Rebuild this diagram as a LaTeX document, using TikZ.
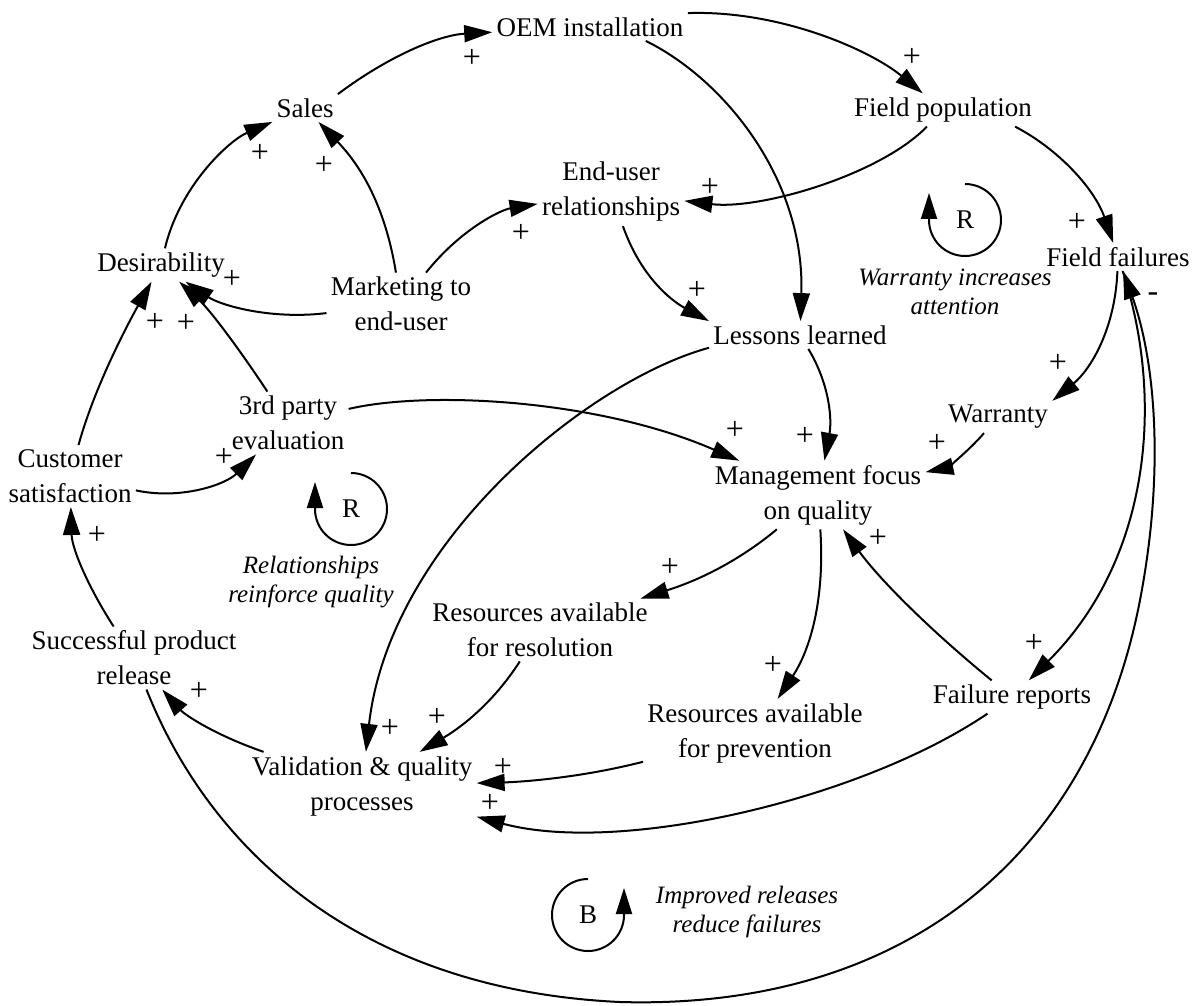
\documentclass[tikz,border=0pt]{standalone}
\usepackage{fontspec}
\setmainfont{Liberation Serif}
\usetikzlibrary{arrows.meta}
\begin{document}
\begin{tikzpicture}[x=0.5pt,y=-0.5pt,
  var/.style={font=\fontsize{13.5}{17.5}\selectfont, align=center, inner sep=2pt},
  note/.style={font=\fontsize{12.5}{14.5}\selectfont\itshape, align=center, inner sep=0pt},
  sign/.style={font=\fontsize{16}{16}\selectfont, inner sep=0pt},
  link/.style={line width=1pt, -{Triangle[length=14pt,width=8.5pt]}},
  loopmark/.style={line width=1pt, -{Triangle[length=13pt,width=8pt]}}
]
\useasboundingbox[fill=white] (0,0) rectangle (1202,1005);

% variables
\node[var] (oem)  at (590,27)  {OEM installation};
\node[var] (sales) at (305,108) {Sales};
\node[var] (fpop) at (943,110) {Field population};
\node[var] (eur)  at (611,192) {End-user\\relationships};
\node[var] (des)  at (161,265) {Desirability};
\node[var] (mkt)  at (401,304) {Marketing to\\end-user};
\node[var] (ff)   at (1118,257) {Field failures};
\node[var] (les)  at (800,335) {Lessons learned};
\node[var] (tpe)  at (288,423) {3rd party\\evaluation};
\node[var] (cs)   at (70,476)  {Customer\\satisfaction};
\node[var] (war)  at (998,417) {Warranty};
\node[var] (mfq)  at (818,495) {Management focus\\on quality};
\node[var] (rar)  at (540,630) {Resources available\\for resolution};
\node[var] (spr)  at (134,658) {Successful product\\release};
\node[var] (rap)  at (755,733) {Resources available\\for prevention};
\node[var] (fr)   at (1012,697) {Failure reports};
\node[var] (vqp)  at (362,786) {Validation \& quality\\processes};

% loop labels
\node[note] (n1) at (955,292) {Warranty increases\\attention};
\node[note] (n2) at (311,582) {Relationships\\reinforce quality};
\node[note] (n3) at (747,912) {Improved releases\\reduce failures};

\node[var] (r1) at (965,220) {R};
\node[var] (r2) at (351,509) {R};
\node[var] (b1) at (588,915) {B};
\draw[loopmark] ([yshift=18pt]r1.center) arc[start angle=90,end angle=-180,radius=18pt] -- ++(0,-27);
\draw[loopmark] ([yshift=18pt]r2.center) arc[start angle=90,end angle=-180,radius=18pt] -- ++(0,-27);
\draw[loopmark] ([yshift=18pt]b1.center) arc[start angle=90,end angle=360,radius=18pt] -- ++(0,-27);

% links
\draw[link] (sales.north east) .. controls (390,55) and (440,35) .. (oem);
\draw[link] (oem.north east) .. controls (780,10) and (870,50) .. (fpop);
\draw[link] (oem.-14) .. controls (725,80) and (805,180) .. (les);
\draw[link] (fpop) .. controls (880,175) and (760,210) .. (eur);
\draw[link] (fpop.-13) .. controls (1060,150) and (1095,190) .. (ff);
\draw[link] (des) .. controls (180,185) and (230,140) .. (sales);
\draw[link] (mkt) .. controls (385,205) and (360,165) .. (sales);
\draw[link] (mkt) .. controls (460,230) and (500,210) .. (eur);
\draw[link] (mkt) .. controls (270,320) and (220,305) .. (des);
\draw[link] (cs) .. controls (95,385) and (130,320) .. (des);
\draw[link] (tpe) .. controls (240,350) and (210,310) .. (des);
\draw[link] (cs) .. controls (180,500) and (225,485) .. (tpe);
\draw[link] (tpe) .. controls (430,390) and (600,400) .. (mfq);
\draw[link] (les.188) .. controls (590,380) and (390,540) .. (vqp);
\draw[link] (eur) .. controls (640,275) and (670,300) .. (les.north west);
\draw[link] (les) .. controls (830,385) and (832,420) .. (mfq);
\draw[link] (ff) .. controls (1115,330) and (1090,370) .. (war.north east);
\draw[link] (war) .. controls (965,455) and (945,468) .. (mfq);
\draw[link] (ff) .. controls (1165,400) and (1150,560) .. (fr);
\draw[link] (spr) .. controls (210,850) and (360,990) .. (620,1002)
   .. controls (900,1010) and (1090,860) .. (1140,600)
   .. controls (1165,470) and (1155,360) .. (ff);
\draw[link] (mfq) .. controls (740,560) and (700,580) .. (rar);
\draw[link] (mfq) .. controls (825,600) and (810,650) .. (rap);
\draw[link] (fr) .. controls (930,630) and (880,580) .. (mfq);
\draw[link] (rar) .. controls (495,700) and (465,725) .. (vqp);
\draw[link] (rap) .. controls (580,778) and (520,782) .. (vqp);
\draw[link] (fr) .. controls (860,800) and (620,855) .. (vqp);
\draw[link] (vqp) .. controls (215,735) and (185,715) .. (spr);
\draw[link] (spr) .. controls (90,590) and (72,550) .. (cs);

% polarity signs
\node[sign] (s1) at (472,58) {+};
\node[sign] (s2) at (912,57) {+};
\node[sign] (s3) at (710,187) {+};
\node[sign] (s4) at (1077,222) {+};
\node[sign] (s5) at (260,153) {+};
\node[sign] (s6) at (324,165) {+};
\node[sign] (s7) at (521,233) {+};
\node[sign] (s8) at (232,279) {+};
\node[sign] (s9) at (155,322) {+};
\node[sign] (s10) at (186,323) {+};
\node[sign] (s11) at (224,457) {+};
\node[sign] (s12) at (735,430) {+};
\node[sign] (s13) at (390,728) {+};
\node[sign] (s14) at (697,290) {+};
\node[sign] (s15) at (805,436) {+};
\node[sign] (s16) at (1058,363) {+};
\node[sign] (s17) at (937,443) {+};
\node[sign] (s18) at (1034,643) {+};
\node[sign] (s19) at (670,567) {+};
\node[sign] (s20) at (773,665) {+};
\node[sign] (s21) at (878,538) {+};
\node[sign] (s22) at (437,717) {+};
\node[sign] (s23) at (503,767) {+};
\node[sign] (s24) at (490,803) {+};
\node[sign] (s25) at (199,691) {+};
\node[sign] (s26) at (97,535) {+};
\node[sign] (m1) at (1153,297) {-};
\end{tikzpicture}
\end{document}
